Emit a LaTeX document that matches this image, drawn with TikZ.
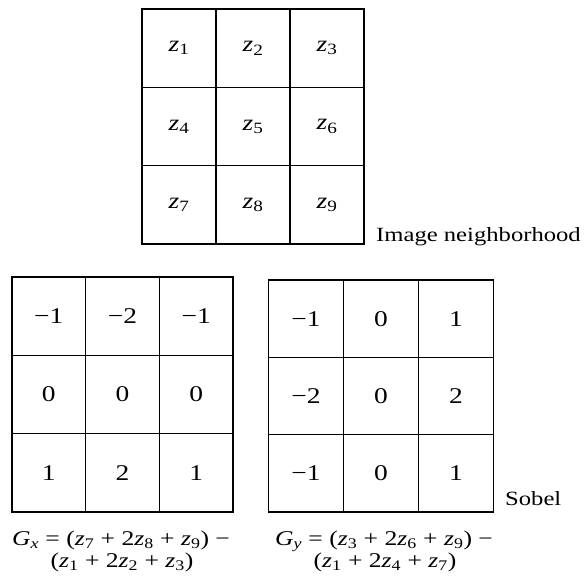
\documentclass[tikz,border=0pt]{standalone}
\usepackage{fontspec}
\setmainfont{Liberation Serif}[FakeStretch=1.22]
\newcommand\zv[1]{\textit{z}\textsubscript{#1}}
\begin{document}
\begin{tikzpicture}[x=1pt,y=-1pt,
  cell/.style={draw, line width=1.5pt, inner sep=0pt, outer sep=0pt, font=\fontsize{22.5}{26}\selectfont},
  topcell/.style={cell, minimum width=74pt, minimum height=78.3pt},
  leftcell/.style={cell, minimum width=73.7pt, minimum height=78.3pt},
  rightcell/.style={cell, minimum width=75pt, minimum height=77.3pt},
  lbl/.style={inner sep=0pt, font=\fontsize{20.2}{22}\selectfont},
  eqn/.style={inner sep=0pt, font=\fontsize{21}{24}\selectfont}]
\useasboundingbox (0,0) rectangle (587,576);
% image neighborhood
\foreach \n/\x/\y/\t in {t1/179/48.2/\zv{1}, t2/253/48.2/\zv{2}, t3/327/48.2/\zv{3},
  t4/179/126.5/\zv{4}, t5/253/126.5/\zv{5}, t6/327/126.5/\zv{6},
  t7/179/204.8/\zv{7}, t8/253/204.8/\zv{8}, t9/327/204.8/\zv{9}}
  \node[topcell] (\n) at (\x,\y) {\t};
% Gx mask
\foreach \n/\x/\y/\t in {a1/48.8/316.2/−1, a2/122.5/316.2/−2, a3/196.2/316.2/−1,
  a4/48.8/394.5/0, a5/122.5/394.5/0, a6/196.2/394.5/0,
  a7/48.8/472.8/1, a8/122.5/472.8/2, a9/196.2/472.8/1}
  \node[leftcell] (\n) at (\x,\y) {\t};
% Gy mask
\foreach \n/\x/\y/\t in {b1/306/318.7/−1, b2/381/318.7/0, b3/456/318.7/1,
  b4/306/396/−2, b5/381/396/0, b6/456/396/2,
  b7/306/473.3/−1, b8/381/473.3/0, b9/456/473.3/1}
  \node[rightcell] (\n) at (\x,\y) {\t};
% labels
\node[lbl, anchor=base west] (imglbl) at (376,241) {Image neighborhood};
\node[lbl, anchor=base west] (sobel) at (505,505) {Sobel};
% equations
\node[eqn, anchor=base] (gx1) at (121,545) {\textit{G}\textsubscript{\textit{x}} = (\zv{7} + 2\zv{8} + \zv{9}) −};
\node[eqn, anchor=base] (gx2) at (122,567) {(\zv{1} + 2\zv{2} + \zv{3})};
\node[eqn, anchor=base] (gy1) at (384,545) {\textit{G}\textsubscript{\textit{y}} = (\zv{3} + 2\zv{6} + \zv{9}) −};
\node[eqn, anchor=base] (gy2) at (385,567) {(\zv{1} + 2\zv{4} + \zv{7})};
\end{tikzpicture}
\end{document}
